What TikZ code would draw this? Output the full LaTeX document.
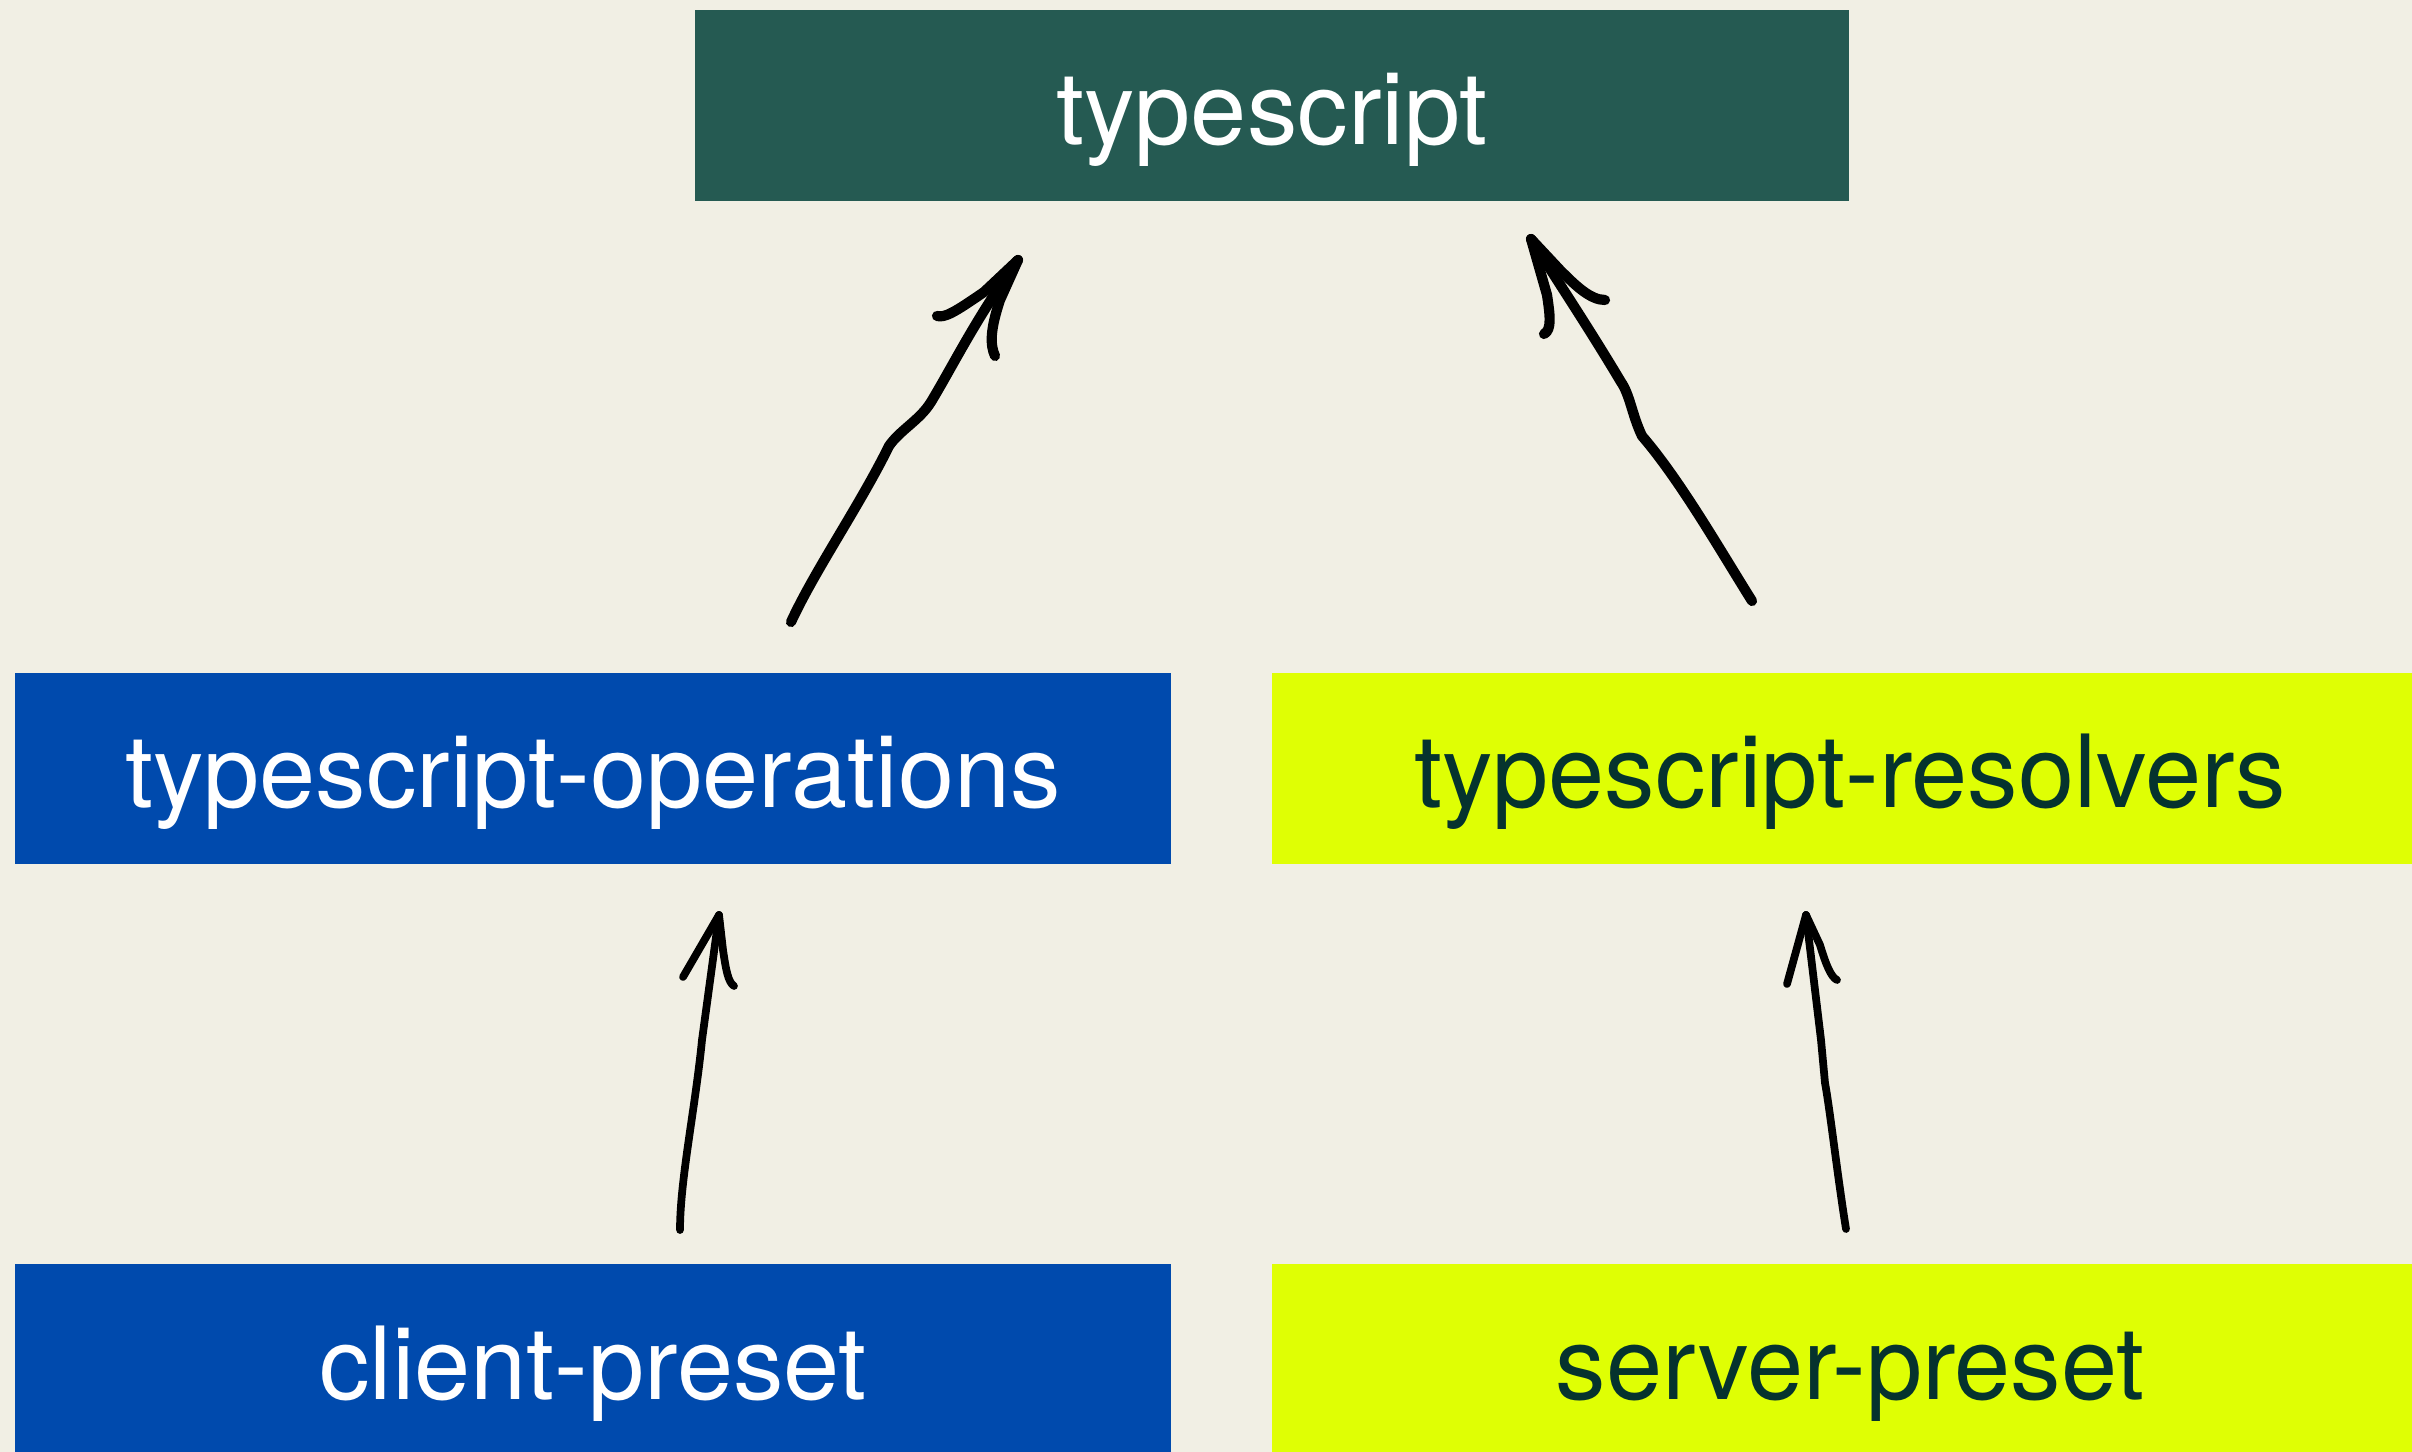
\documentclass[tikz,border=0pt]{standalone}
\usepackage{fontspec}
\setmainfont{TeX Gyre Heros}
\definecolor{bgc}{HTML}{F1EFE4}
\definecolor{tsgreen}{HTML}{255A52}
\definecolor{opsblue}{HTML}{004AAD}
\definecolor{limec}{HTML}{DFFF04}
\definecolor{darktext}{HTML}{05332E}
\begin{document}
\begin{tikzpicture}[x=0.01cm,y=-0.01cm,
  box/.style={rectangle, inner sep=0pt, minimum width=11.56cm, minimum height=1.91cm,
    text height=0.78cm, text depth=0pt, font=\fontsize{28.7pt}{32pt}\selectfont},
  sketch/.style={draw=black, line width=2.9pt, line cap=round, line join=round},
  thinsketch/.style={draw=black, line width=2.2pt, line cap=round, line join=round}]
\fill[bgc] (0,0) rectangle (2412,1452);
\useasboundingbox (0,0) rectangle (2412,1452);
\clip (0,0) rectangle (2412,1452);

\node[box, fill=tsgreen, text=white, minimum width=11.54cm, minimum height=1.90cm] (ts) at (1272,105.5) {typescript};
\node[box, fill=opsblue, text=white] (ops) at (593,768.5) {typescript-operations};
\node[box, fill=limec, text=darktext] (res) at (1850,768.5) {typescript-resolvers};
\node[box, fill=opsblue, text=white] (client) at (593,1360) {client-preset};
\node[box, fill=limec, text=darktext] (server) at (1850,1360) {server-preset};

% arrow ops -> ts
\coordinate (a1tail) at (791,622);
\coordinate (a1tip) at (1018,260);
\draw[sketch] (a1tail) .. controls (815,570) and (860,505) .. (889,446)
  .. controls (900,430) and (920,420) .. (931,402) .. controls (955,362) and (975,320) .. (a1tip);
\draw[sketch] (937,316) .. controls (945,318) and (955,312) .. (984,292) -- (a1tip);
\draw[sketch] (995,356) .. controls (990,345) and (990,330) .. (1000,300) -- (a1tip);

% arrow res -> ts
\coordinate (a2tail) at (1752,601);
\coordinate (a2tip) at (1531,239);
\draw[sketch] (a2tail) .. controls (1720,550) and (1680,480) .. (1642,436)
  .. controls (1632,415) and (1630,395) .. (1621,382) .. controls (1590,330) and (1560,285) .. (a2tip);
\draw[sketch] (1544,334) .. controls (1552,330) and (1550,315) .. (1547,295) -- (a2tip);
\draw[sketch] (1605,300) .. controls (1590,300) and (1575,285) .. (1560,270) -- (a2tip);

% arrow client -> ops
\coordinate (a3tail) at (680,1230);
\coordinate (a3tip) at (719,915);
\draw[thinsketch] (a3tail) .. controls (680,1180) and (695,1110) .. (702,1040) -- (a3tip);
\draw[thinsketch] (683,977) -- (a3tip);
\draw[thinsketch] (734,986) .. controls (728,982) and (726,970) .. (723,950) -- (a3tip);

% arrow server -> res
\coordinate (a4tail) at (1846,1229);
\coordinate (a4tip) at (1806,915);
\draw[thinsketch] (a4tail) .. controls (1838,1180) and (1830,1110) .. (1825,1083) -- (1821,1040) -- (a4tip);
\draw[thinsketch] (1787,984) -- (a4tip);
\draw[thinsketch] (1837,980) .. controls (1831,977) and (1826,965) .. (1820,945) -- (a4tip);
\end{tikzpicture}
\end{document}
